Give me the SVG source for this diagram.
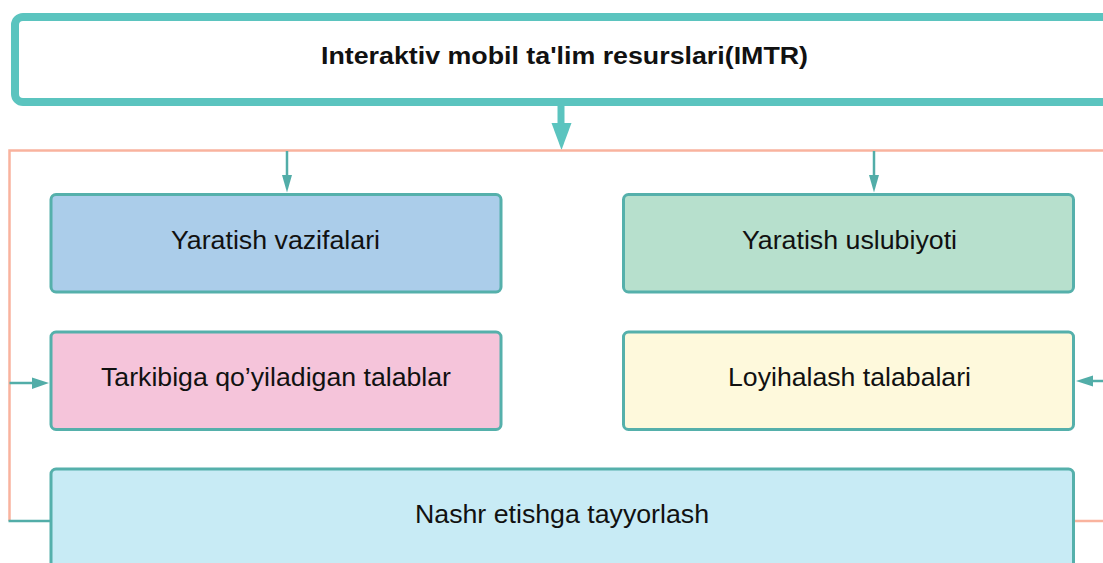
<svg xmlns="http://www.w3.org/2000/svg" width="1103" height="563" viewBox="0 0 1103 563">
<style>
.box{stroke:#55B0AB;stroke-width:3}
.lbl{font-family:"Liberation Sans",Arial,sans-serif;font-size:25.5px;fill:#111;text-anchor:middle;dominant-baseline:central}
.ttl{font-family:"Liberation Sans",Arial,sans-serif;font-size:23px;font-weight:bold;fill:#111;text-anchor:middle;dominant-baseline:central}
.or{stroke:#F9B39E;stroke-width:2.5;fill:none}
.tl{stroke:#52ADA8;stroke-width:2.5;fill:none}
.ah{fill:#52ADA8}
</style>
<rect width="1103" height="563" fill="#fff"/>
<g id="connectors">
  <line x1="561" y1="106" x2="561" y2="126" stroke="#5BC4BF" stroke-width="7"/>
  <polygon points="551.5,123 571.5,123 561.5,150" fill="#5BC4BF"/>
  <polyline class="or" points="1103,150.5 9.5,150.5 9.5,521"/>
  <line class="tl" x1="8.5" y1="521" x2="51" y2="521"/>
  <line class="or" x1="1074" y1="521" x2="1103" y2="521"/>
  <line class="tl" x1="287" y1="151" x2="287" y2="178"/>
  <polygon class="ah" points="282,175 292,175 287,192.5"/>
  <line class="tl" x1="874" y1="151" x2="874" y2="178"/>
  <polygon class="ah" points="869,175 879,175 874,192.5"/>
  <line class="tl" x1="9.5" y1="383" x2="35" y2="383"/>
  <polygon class="ah" points="32,377.5 32,389 49,383"/>
  <line class="tl" x1="1103" y1="381" x2="1090" y2="381"/>
  <polygon class="ah" points="1093,375.5 1093,386.5 1076,381"/>
</g>
<g id="imtr">
  <rect x="15" y="17" width="1110" height="85" rx="8" fill="#fff" stroke="#5BC4BF" stroke-width="8"/>
  <text class="ttl" x="564.5" y="56" textLength="487" lengthAdjust="spacingAndGlyphs">Interaktiv mobil ta'lim resurslari(IMTR)</text>
</g>
<g id="vazifalari">
  <rect class="box" x="51" y="194.5" width="450" height="97.5" rx="5" fill="#ABCDEA"/>
  <text class="lbl" x="275.5" y="240" textLength="209" lengthAdjust="spacingAndGlyphs">Yaratish vazifalari</text>
</g>
<g id="uslubiyoti">
  <rect class="box" x="623.5" y="194.5" width="450" height="97.5" rx="5" fill="#B7E0CD"/>
  <text class="lbl" x="849.5" y="240" textLength="215" lengthAdjust="spacingAndGlyphs">Yaratish uslubiyoti</text>
</g>
<g id="tarkibiga">
  <rect class="box" x="51" y="332" width="450" height="97.5" rx="5" fill="#F5C4DA"/>
  <text class="lbl" x="276" y="377" textLength="350" lengthAdjust="spacingAndGlyphs">Tarkibiga qo’yiladigan talablar</text>
</g>
<g id="loyihalash">
  <rect class="box" x="623.5" y="332" width="450" height="97.5" rx="5" fill="#FEF9DC"/>
  <text class="lbl" x="849.5" y="377" textLength="243" lengthAdjust="spacingAndGlyphs">Loyihalash talabalari</text>
</g>
<g id="nashr">
  <rect class="box" x="51" y="469" width="1022.5" height="130" rx="5" fill="#C8EBF5"/>
  <text class="lbl" x="562" y="514" textLength="294" lengthAdjust="spacingAndGlyphs">Nashr etishga tayyorlash</text>
</g>
</svg>
